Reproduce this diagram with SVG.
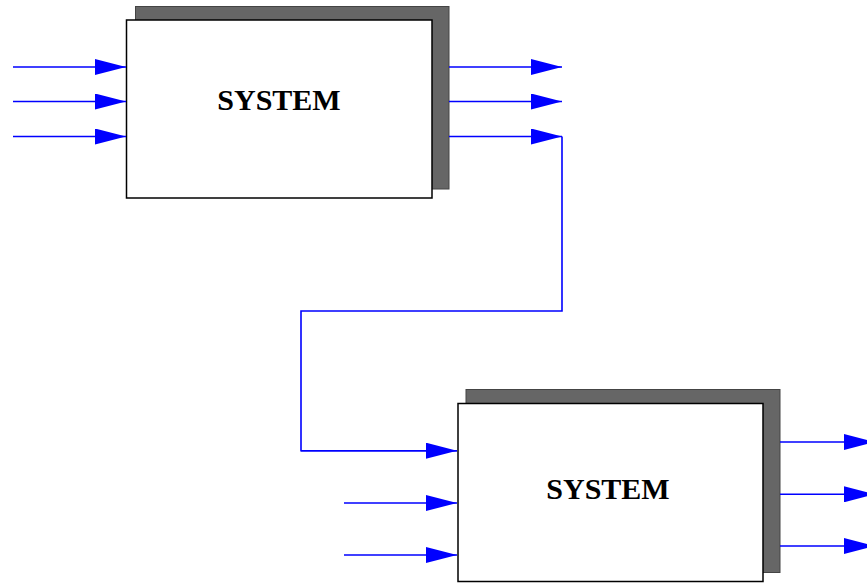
<svg xmlns="http://www.w3.org/2000/svg" width="867" height="585" viewBox="0 0 867 585">
<style>
.shadow{fill:#666666;stroke:#444444;stroke-width:1}
.box{fill:#ffffff;stroke:#000000;stroke-width:1.5}
.lbl{font-family:"Liberation Serif","Times New Roman",serif;font-weight:bold;font-size:30px;fill:#000000;text-anchor:middle}
.conn{fill:none;stroke:#0000ff;stroke-width:1.6;marker-end:url(#ah)}
</style>
<defs>
<marker id="ah" markerUnits="userSpaceOnUse" markerWidth="31" markerHeight="16" refX="31" refY="8" orient="auto">
<path d="M0,0 L31,8 L0,16 Z" fill="#0000ff"/>
</marker>
</defs>
<rect width="867" height="585" fill="#ffffff"/>
<g id="system1">
<rect class="shadow" x="135.5" y="6.5" width="313.5" height="182.5"/>
<rect class="box" x="126.5" y="20" width="305.5" height="178"/>
<text class="lbl" x="279" y="109.5">SYSTEM</text>
</g>
<g id="system2">
<rect class="shadow" x="466" y="389.5" width="314" height="183"/>
<rect class="box" x="458" y="403.5" width="305" height="178"/>
<text class="lbl" x="608" y="499.3">SYSTEM</text>
</g>
<g id="connectors">
<path class="conn" d="M13,67 L126,67"/>
<path class="conn" d="M13,101.5 L126,101.5"/>
<path class="conn" d="M13,136.5 L126,136.5"/>
<path class="conn" d="M449,67 L562,67"/>
<path class="conn" d="M449,101.5 L562,101.5"/>
<path class="conn" d="M449,136.5 L562,136.5"/>
<path fill="none" stroke="#0000ff" stroke-width="1.6" d="M562,136.5 L562,311 L301,311 L301,450.7 L457,450.7"/>
<path class="conn" d="M301,450.7 L457,450.7"/>
<path class="conn" d="M344,503 L457,503"/>
<path class="conn" d="M344,555 L457,555"/>
<path class="conn" d="M780,442 L875,442"/>
<path class="conn" d="M780,494.3 L875,494.3"/>
<path class="conn" d="M780,546 L875,546"/>
</g>
</svg>
